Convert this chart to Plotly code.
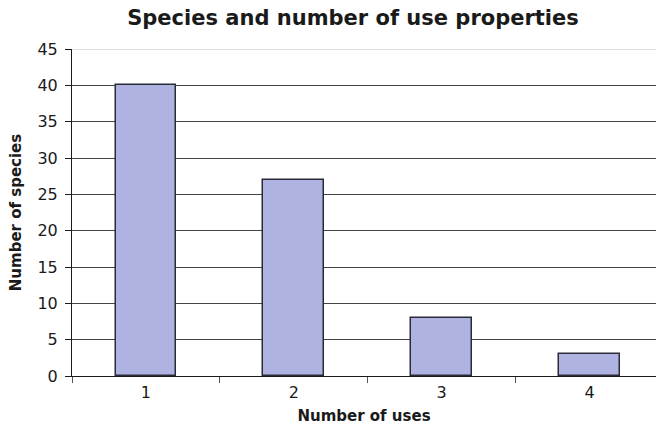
import plotly.graph_objects as go

uses = [1, 2, 3, 4]
species = [40, 27, 8, 3]
y_ticks = [0, 5, 10, 15, 20, 25, 30, 35, 40, 45]

FONT = "DejaVu Sans, Verdana, sans-serif"

fig = go.Figure(
    go.Bar(
        x=uses,
        y=species,
        width=0.41,
        marker=dict(color="#aeb3e1", line=dict(color="#2b2b38", width=1.5)),
    )
)

fig.update_layout(
    width=656,
    height=426,
    margin=dict(l=72, r=0, t=49, b=50),
    paper_bgcolor="white",
    plot_bgcolor="white",
    font=dict(family=FONT, color="#1a1a1a", size=16),
    title=dict(
        text="<b>Species and number of use properties</b>",
        x=353 / 656,
        xanchor="center",
        xref="container",
        y=1 - 18 / 426,
        yanchor="middle",
        font=dict(size=21, color="#1a1a1a"),
    ),
    showlegend=False,
    bargap=0,
)

fig.update_xaxes(
    range=[0.5, 4.45],
    tickvals=uses,
    ticktext=[str(u) for u in uses],
    ticks="",
    showgrid=False,
    showline=True,
    linecolor="#1a1a1a",
    linewidth=1,
    zeroline=False,
    minor=dict(tickvals=[0.5, 1.5, 2.5, 3.5], ticks="outside", ticklen=6,
               tickcolor="#555", tickwidth=1, showgrid=False),
    ticklabelstandoff=2,
    title=dict(text="<b>Number of uses</b>", font=dict(size=15), standoff=9),
    tickfont=dict(size=16),
)

fig.update_yaxes(
    range=[0, 45],
    tickvals=y_ticks,
    ticks="outside",
    ticklen=6,
    tickcolor="#1a1a1a",
    showgrid=True,
    gridcolor="#444444",
    gridwidth=1,
    showline=True,
    linecolor="#1a1a1a",
    linewidth=1,
    zeroline=False,
    ticklabelstandoff=4,
    title=dict(text="<b>Number of species</b>", font=dict(size=15), standoff=12),
    tickfont=dict(size=16),
)

# the top gridline is drawn lighter than the rest
fig.add_shape(type="line", xref="paper", yref="y", x0=0, x1=1,
              y0=y_ticks[-1], y1=y_ticks[-1], line=dict(color="#bdbdbd", width=1))

fig.write_html("out.html")
